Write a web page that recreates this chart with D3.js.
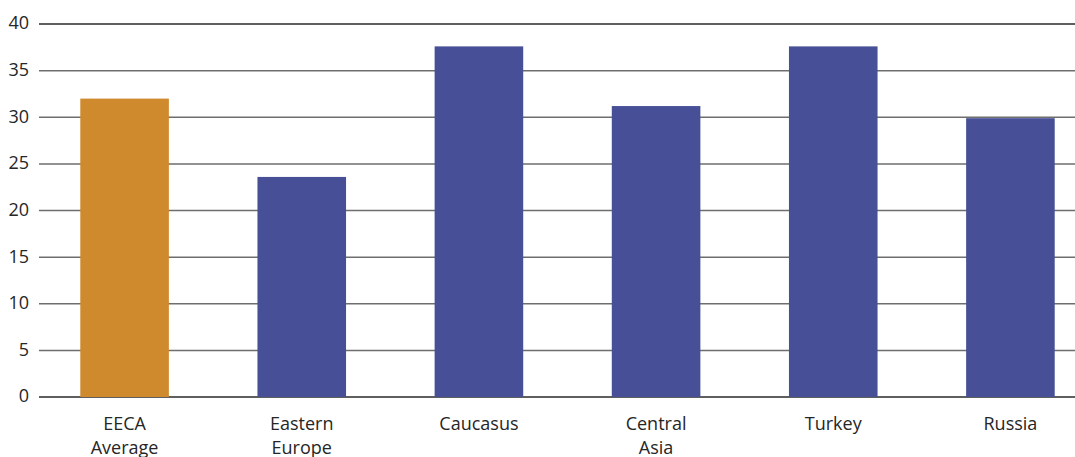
<!DOCTYPE html>
<html>
<head>
<meta charset="utf-8">
<script src="https://cdn.jsdelivr.net/npm/d3@7"></script>
<style>
  body { margin: 0; background: #fff; }
  text { font-family: "Open Sans", sans-serif; fill: #262626; }
</style>
</head>
<body>
<svg id="chart" width="1075" height="457"></svg>
<script>
// données
const categories = ["EECA|Average", "Eastern|Europe", "Caucasus", "Central|Asia", "Turkey", "Russia"];
const values = [32, 23.6, 37.6, 31.2, 37.6, 29.9];
const barColors = ["#cf8a2e", "#474f96", "#474f96", "#474f96", "#474f96", "#474f96"];
const yTicks = [0, 5, 10, 15, 20, 25, 30, 35, 40];

const svg = d3.select("#chart");
const plotLeft = 39, plotRight = 1075, plotTop = 24, plotBottom = 397;

const y = d3.scaleLinear().domain([0, 40]).range([plotBottom, plotTop]);
const x = d3.scaleBand()
  .domain(categories)
  .range([36, 1099])
  .paddingInner(0.5)
  .paddingOuter(0.25);

// lignes de grille
svg.append("g")
  .selectAll("line")
  .data(yTicks)
  .join("line")
  .attr("x1", plotLeft)
  .attr("x2", plotRight)
  .attr("y1", d => y(d))
  .attr("y2", d => y(d))
  .attr("stroke", d => (d === 40 || d === 0) ? "#2a2a2a" : "#6e6e6e")
  .attr("stroke-width", 1.5);

// étiquettes de l'axe y
svg.append("g")
  .selectAll("text")
  .data(yTicks)
  .join("text")
  .attr("x", 29)
  .attr("y", d => y(d))
  .attr("dy", "0.3em")
  .attr("text-anchor", "end")
  .attr("font-size", 18)
  .text(d => d);

// barres
svg.append("g")
  .selectAll("rect")
  .data(categories)
  .join("rect")
  .attr("x", d => x(d))
  .attr("width", x.bandwidth())
  .attr("y", (d, i) => y(values[i]))
  .attr("height", (d, i) => y(0) - y(values[i]))
  .attr("fill", (d, i) => barColors[i]);

// étiquettes des catégories
const labels = svg.append("g")
  .selectAll("text")
  .data(categories)
  .join("text")
  .attr("x", d => x(d) + x.bandwidth() / 2)
  .attr("y", 430)
  .attr("text-anchor", "middle")
  .attr("font-size", 18);

labels.selectAll("tspan")
  .data(d => d.split("|"))
  .join("tspan")
  .attr("x", function() { return this.parentNode.getAttribute("x"); })
  .attr("dy", (d, i) => i === 0 ? 0 : 24)
  .text(d => d);
</script>
</body>
</html>
